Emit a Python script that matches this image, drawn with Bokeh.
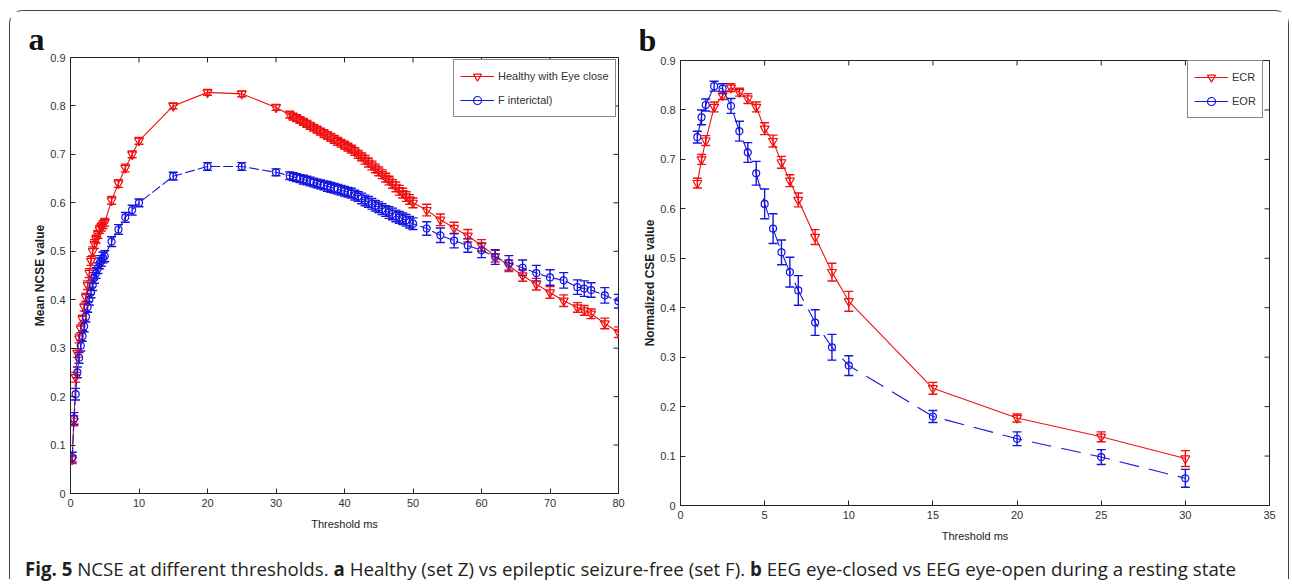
import math
from bokeh.plotting import figure
from bokeh.models import (ColumnDataSource, Whisker, TeeHead, FixedTicker,
                          Legend, LegendItem, Div, Range1d, Title)
from bokeh.layouts import column, row
from bokeh.embed import file_html
from bokeh.resources import INLINE

# ---------------- Panel a data ----------------
a_threshold = [0.25, 0.5, 0.75, 1.0, 1.25, 1.5, 1.75, 2.0, 2.25, 2.5, 2.75, 3.0, 3.25, 3.5, 3.75,
               4.0, 4.25, 4.5, 4.75, 5.0,
               6, 7, 8, 9, 10, 15, 20, 25, 30,
               32, 32.5, 33, 33.5, 34, 34.5, 35, 35.5, 36, 36.5, 37, 37.5, 38, 38.5, 39, 39.5,
               40, 40.5, 41, 41.5, 42, 42.5, 43, 43.5, 44, 44.5, 45, 45.5, 46, 46.5, 47, 47.5,
               48, 48.5, 49, 49.5, 50,
               52, 54, 56, 58, 60, 62, 64, 66, 68, 70, 72,
               74, 75, 76, 78, 80]
a_healthy = [0.07, 0.15, 0.24, 0.29, 0.32, 0.34, 0.36, 0.385, 0.405, 0.43, 0.455, 0.48, 0.50, 0.515,
             0.525, 0.535, 0.545, 0.55, 0.555, 0.56,
             0.605, 0.64, 0.672, 0.70, 0.728, 0.80, 0.828, 0.825, 0.797,
             0.782, 0.778, 0.775, 0.771, 0.767, 0.763, 0.759, 0.755, 0.751, 0.747, 0.743, 0.739,
             0.735, 0.731, 0.727, 0.723, 0.719, 0.715, 0.711, 0.706, 0.70, 0.695, 0.689, 0.683,
             0.677, 0.671, 0.665, 0.659, 0.652, 0.646, 0.639, 0.633, 0.626, 0.62, 0.613, 0.607, 0.60,
             0.585, 0.565, 0.548, 0.532, 0.512, 0.49, 0.47, 0.45, 0.432, 0.415, 0.398,
             0.384, 0.378, 0.371, 0.351, 0.333]
a_healthy_err = [0.008, 0.01, 0.01, 0.009, 0.009, 0.008, 0.008, 0.008, 0.008, 0.009, 0.009, 0.009,
                 0.009, 0.009, 0.008, 0.008, 0.008, 0.008, 0.008, 0.008,
                 0.008, 0.008, 0.008, 0.007, 0.007, 0.006, 0.006, 0.006, 0.006,
                 0.007, 0.007, 0.007, 0.007, 0.007, 0.007, 0.007, 0.007, 0.007, 0.007, 0.008, 0.008,
                 0.008, 0.008, 0.008, 0.008, 0.008, 0.008, 0.008, 0.008, 0.008, 0.008, 0.009, 0.009,
                 0.009, 0.009, 0.009, 0.009, 0.009, 0.009, 0.009, 0.01, 0.01, 0.01, 0.01, 0.01, 0.01,
                 0.012, 0.012, 0.012, 0.013, 0.012, 0.012, 0.012, 0.012, 0.012, 0.012, 0.012,
                 0.01, 0.01, 0.01, 0.011, 0.011]
a_interictal = [0.075, 0.155, 0.205, 0.25, 0.28, 0.305, 0.325, 0.345, 0.365, 0.385, 0.40, 0.415,
                0.43, 0.445, 0.455, 0.465, 0.475, 0.48, 0.487, 0.49,
                0.52, 0.545, 0.57, 0.585, 0.60, 0.655, 0.675, 0.675, 0.663,
                0.656, 0.654, 0.652, 0.650, 0.648, 0.646, 0.644, 0.642, 0.640, 0.638, 0.636, 0.634,
                0.632, 0.630, 0.628, 0.626, 0.624, 0.622, 0.620, 0.616, 0.613, 0.609, 0.605, 0.602,
                0.598, 0.594, 0.591, 0.587, 0.583, 0.580, 0.577, 0.573, 0.570, 0.567, 0.564, 0.560, 0.557,
                0.547, 0.533, 0.522, 0.512, 0.502, 0.488, 0.476, 0.466, 0.455, 0.446, 0.44,
                0.426, 0.423, 0.42, 0.409, 0.397]
a_interictal_err = [0.01, 0.012, 0.012, 0.011, 0.011, 0.011, 0.011, 0.011, 0.011, 0.011, 0.011, 0.011,
                    0.011, 0.011, 0.011, 0.011, 0.011, 0.011, 0.011, 0.011,
                    0.01, 0.01, 0.01, 0.01, 0.008, 0.008, 0.008, 0.008, 0.007,
                    0.008, 0.008, 0.008, 0.008, 0.009, 0.009, 0.009, 0.009, 0.009, 0.009, 0.009, 0.01,
                    0.01, 0.01, 0.01, 0.01, 0.01, 0.01, 0.01, 0.01, 0.01, 0.011, 0.011, 0.011,
                    0.011, 0.011, 0.011, 0.011, 0.011, 0.012, 0.012, 0.012, 0.012, 0.012, 0.012, 0.012, 0.012,
                    0.014, 0.015, 0.015, 0.014, 0.015, 0.015, 0.015, 0.016, 0.016, 0.016, 0.016,
                    0.015, 0.016, 0.015, 0.016, 0.014]

# ---------------- Panel b data ----------------
b_threshold = [1, 1.25, 1.5, 2, 2.5, 3, 3.5, 4, 4.5, 5, 5.5, 6, 6.5, 7, 8, 9, 10, 15, 20, 25, 30]
b_ecr = [0.652, 0.70, 0.738, 0.806, 0.829, 0.845, 0.836, 0.823, 0.806, 0.762, 0.737, 0.694, 0.657,
         0.618, 0.543, 0.472, 0.413, 0.237, 0.177, 0.139, 0.095]
b_ecr_err = [0.01, 0.01, 0.01, 0.01, 0.008, 0.008, 0.008, 0.01, 0.01, 0.012, 0.012, 0.012, 0.012,
             0.014, 0.015, 0.018, 0.02, 0.012, 0.008, 0.01, 0.016]
b_eor = [0.745, 0.785, 0.81, 0.848, 0.843, 0.808, 0.757, 0.714, 0.672, 0.61, 0.56, 0.512, 0.472,
         0.435, 0.37, 0.32, 0.283, 0.18, 0.135, 0.098, 0.055]
b_eor_err = [0.012, 0.015, 0.012, 0.01, 0.01, 0.015, 0.02, 0.02, 0.024, 0.03, 0.03, 0.025, 0.03,
             0.03, 0.026, 0.026, 0.02, 0.012, 0.014, 0.015, 0.018]

a_xticks = [0, 10, 20, 30, 40, 50, 60, 70, 80]
b_xticks = [0, 5, 10, 15, 20, 25, 30, 35]
yticks = [0, 0.1, 0.2, 0.3, 0.4, 0.5, 0.6, 0.7, 0.8, 0.9]

RED = "#f01010"
BLUE = "#1515e0"
AX = "#222222"
TICK_FONT = "Liberation Sans"


def style_axis(ax, ticks):
    ax.ticker = FixedTicker(ticks=ticks)
    ax.major_tick_in = 5
    ax.major_tick_out = 0
    ax.minor_tick_in = 0
    ax.minor_tick_out = 0
    ax.axis_line_color = AX
    ax.major_tick_line_color = AX
    ax.major_label_text_font = TICK_FONT
    ax.major_label_text_color = "#333333"
    ax.major_label_text_font_size = "11px"
    ax.major_label_standoff = 5
    ax.axis_label_text_font = TICK_FONT
    ax.axis_label_text_color = AX


def make_panel(width, height, mbl, mbr, mbt, mbb, xmax, xticks, xlabel, ylabel, letter, offset,
               standoff):
    p = figure(width=width, height=height, x_range=Range1d(0, xmax), y_range=Range1d(0, 0.9),
               output_backend="svg", toolbar_location=None, title=None,
               min_border_left=mbl, min_border_right=mbr, min_border_top=mbt, min_border_bottom=mbb)
    p.title = Title(text=letter, align="left", offset=offset, text_font="Liberation Serif",
                    text_font_style="bold", text_font_size="32px", text_color="#111111",
                    standoff=standoff)
    p.xgrid.visible = False
    p.ygrid.visible = False
    p.outline_line_color = AX
    p.outline_line_alpha = 1.0
    p.background_fill_color = "white"
    p.border_fill_color = "white"
    style_axis(p.xaxis[0], xticks)
    style_axis(p.yaxis[0], yticks)
    p.yaxis[0].major_label_overrides = {0: "0"}
    p.xaxis[0].axis_label = xlabel
    p.xaxis[0].axis_label_text_font_size = "11px"
    p.xaxis[0].axis_label_text_font_style = "normal"
    p.xaxis[0].axis_label_standoff = 8
    p.yaxis[0].axis_label = ylabel
    p.yaxis[0].axis_label_text_font_size = "12px"
    p.yaxis[0].axis_label_text_font_style = "bold"
    p.yaxis[0].axis_label_standoff = 0
    # inward tick marks on the top and right edges of the box (clipped to the frame)
    p.scatter(x=xticks, y=[0.9] * len(xticks), marker="dash", angle=math.pi / 2, size=10,
              line_color=AX, line_width=1)
    p.scatter(x=[xmax] * len(yticks), y=yticks, marker="dash", size=10,
              line_color=AX, line_width=1)
    return p


def add_series(p, x, y, err, color, marker, msize, dash):
    src = ColumnDataSource(dict(x=x, y=y,
                                lo=[v - e for v, e in zip(y, err)],
                                hi=[v + e for v, e in zip(y, err)]))
    p.line("x", "y", source=src, line_color=color, line_width=1.1, line_dash=dash)
    wh = Whisker(base="x", upper="hi", lower="lo", source=src, line_color=color, line_width=1.4,
                 upper_head=TeeHead(size=9, line_color=color, line_width=1.4),
                 lower_head=TeeHead(size=9, line_color=color, line_width=1.4))
    p.add_layout(wh)
    sc = p.scatter("x", "y", source=src, marker=marker, size=msize, fill_color=None,
                   line_color=color, line_width=1.2)
    # solid line sample used only by the legend (no visible data)
    key = p.line(x=[float("nan")], y=[float("nan")], line_color=color, line_width=1.1)
    return [key, sc]


def make_legend(items, loc):
    return Legend(items=items, location=loc, border_line_color="#111111", border_line_width=1,
                  background_fill_color="white", background_fill_alpha=1.0, padding=6, spacing=4,
                  glyph_width=34, glyph_height=20, label_height=20, label_standoff=4,
                  label_text_font=TICK_FONT, label_text_font_size="11px",
                  label_text_color="#333333", margin=0)


# ---------------- Panel a ----------------
pa = make_panel(630, 545, 60, 22, 46, 63, 80, a_xticks, "Threshold ms", "Mean NCSE value",
                "a", -42, 2)
ra1 = add_series(pa, a_threshold, a_healthy, a_healthy_err, RED, "inverted_triangle", 9, "solid")
ra2 = add_series(pa, a_threshold, a_interictal, a_interictal_err, BLUE, "circle", 7, "10 3")
pa.add_layout(make_legend([LegendItem(label="Healthy with Eye close", renderers=ra1),
                           LegendItem(label="F interictal)", renderers=ra2)], (383, 376)))

# ---------------- Panel b ----------------
pb = make_panel(648, 545, 40, 19, 49, 51, 35, b_xticks, "Threshold ms", "Normalized CSE value",
                "b", -42, 6)
rb1 = add_series(pb, b_threshold, b_ecr, b_ecr_err, RED, "inverted_triangle", 9, "solid")
rb2 = add_series(pb, b_threshold, b_eor, b_eor_err, BLUE, "circle", 7, "20 10")
pb.add_layout(make_legend([LegendItem(label="ECR", renderers=rb1),
                           LegendItem(label="EOR", renderers=rb2)], (507, 387)))

caption = Div(
    text=("<b>Fig. 5</b> NCSE at different thresholds. <b>a</b> Healthy (set Z) vs epileptic "
          "seizure-free (set F). <b>b</b> EEG eye-closed vs EEG eye-open during a resting state"),
    styles={"font-family": "'Open Sans'", "font-size": "18.7px", "color": "#231f20",
            "white-space": "nowrap", "line-height": "20px"},
    margin=(3, 0, 0, 15), width=1250, height=20)

root = column(row(column(pa), column(pb)), caption,
              margin=(10, 0, 0, 9),
              styles={"border-top": "1px solid #444", "border-left": "1px solid #444",
                      "border-right": "1px solid #444", "border-top-left-radius": "14px",
                      "border-top-right-radius": "14px", "background": "white"})

open("out.html", "w").write(file_html(root, INLINE, title="NCSE at different thresholds"))
